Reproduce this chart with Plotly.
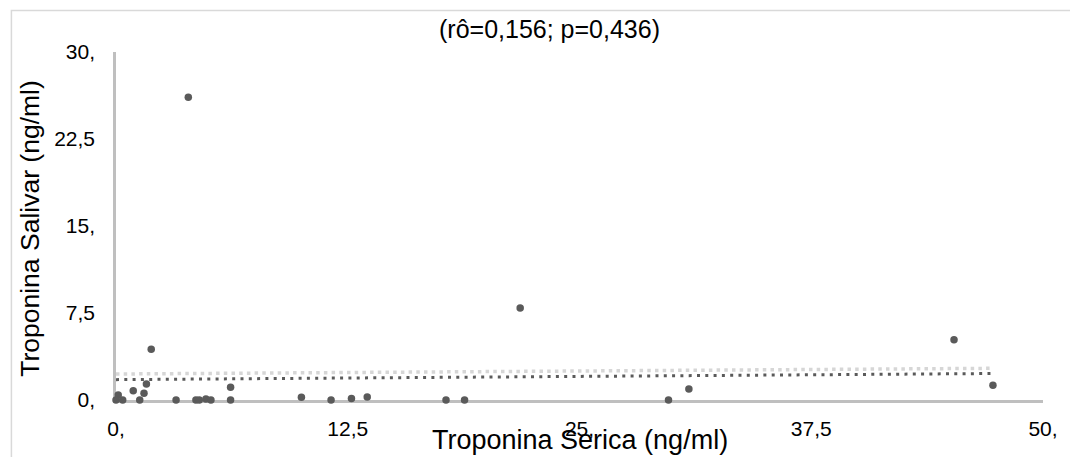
import numpy as np
import plotly.graph_objects as go

# Data
x_serica = [0.12, 0.0, 0.36, 0.93, 1.28, 1.51, 1.64, 1.90, 3.24, 4.31, 4.49, 4.85, 5.12,
            6.18, 6.18, 10.0, 11.6, 12.7, 13.55, 17.8, 18.8, 3.90, 21.8, 29.8, 30.9,
            45.2, 47.3]
y_salivar = [0.43, 0.0, 0.0, 0.80, 0.0, 0.58, 1.38, 4.37, 0.0, 0.0, 0.0, 0.08, 0.0,
             1.09, 0.0, 0.23, 0.0, 0.14, 0.26, 0.0, 0.0, 26.1, 7.93, 0.0, 0.95,
             5.20, 1.27]

# second (light) trend line
trend2_x = [0.0, 47.2]
trend2_y = [2.24, 2.73]

x_ticks = [0, 12.5, 25, 37.5, 50]
x_tick_labels = ["0,", "12,5", "25,", "37,5", "50,"]
y_ticks = [0, 7.5, 15, 22.5, 30]
y_tick_labels = ["0,", "7,5", "15,", "22,5", "30,"]

title_text = "(rô=0,156; p=0,436)"
x_title = "Troponina Serica (ng/ml)"
y_title = "Troponina Salivar (ng/ml)"

# linear trendline (least squares) from the data
slope, intercept = np.polyfit(x_serica, y_salivar, 1)
tx = np.array([min(x_serica), max(x_serica)])
ty = slope * tx + intercept

FONT = "Arial, Liberation Sans, sans-serif"
W, H = 1070, 457
ML, MR, MT, MB = 116, 19, 52, 57
PW = W - ML - MR
PH = H - MT - MB

def px_to_paper_x(px):
    return (px - ML) / PW

def px_to_paper_y(py):
    return (H - MB - py) / PH

fig = go.Figure()

fig.add_trace(go.Scatter(
    x=trend2_x, y=trend2_y, mode="lines",
    line=dict(color="#d6d6d6", width=3.5, dash="3.5px,4.2px"),
    hoverinfo="skip", showlegend=False, cliponaxis=False,
))
fig.add_trace(go.Scatter(
    x=tx, y=ty, mode="lines",
    line=dict(color="#5a5a5a", width=3, dash="3px,5.3px"),
    hoverinfo="skip", showlegend=False, cliponaxis=False,
))
fig.add_trace(go.Scatter(
    x=x_serica, y=y_salivar, mode="markers",
    marker=dict(color="#5a5a5a", size=7.5, line=dict(width=0)),
    showlegend=False, cliponaxis=False,
))

fig.update_layout(
    width=W, height=H,
    margin=dict(l=ML, r=MR, t=MT, b=MB, pad=0),
    paper_bgcolor="white", plot_bgcolor="white",
    font=dict(family=FONT, color="#000000", size=22),
    xaxis=dict(
        range=[0, 50], tickvals=x_ticks, ticktext=x_tick_labels,
        showgrid=False, zeroline=False, showline=True, linecolor="#bfbfbf",
        linewidth=2.5, ticks="", ticklabelstandoff=8, layer="below traces",
        ticklabeloverflow="allow",
        tickfont=dict(size=21, color="#000000"),
    ),
    yaxis=dict(
        range=[0, 30], tickvals=y_ticks, ticktext=y_tick_labels,
        showgrid=False, zeroline=False, showline=True, linecolor="#bfbfbf",
        linewidth=2.5, ticks="", ticklabelstandoff=14, layer="below traces",
        ticklabeloverflow="allow",
        tickfont=dict(size=21, color="#000000"),
    ),
    shapes=[dict(
        type="rect", xref="paper", yref="paper",
        x0=px_to_paper_x(10.5), x1=px_to_paper_x(1200),
        y0=px_to_paper_y(600), y1=px_to_paper_y(10.5),
        line=dict(color="#d9d9d9", width=1.5), fillcolor="rgba(0,0,0,0)",
        layer="below",
    )],
    annotations=[
        dict(text=title_text, xref="paper", yref="paper",
             x=px_to_paper_x(553), y=px_to_paper_y(29),
             xanchor="center", yanchor="middle", showarrow=False,
             font=dict(size=25, family=FONT, color="#000000")),
        dict(text=x_title, xref="paper", yref="paper",
             x=px_to_paper_x(584), y=px_to_paper_y(440),
             xanchor="center", yanchor="middle", showarrow=False,
             font=dict(size=27, family=FONT, color="#000000")),
        dict(text=y_title, xref="paper", yref="paper",
             x=px_to_paper_x(29), y=px_to_paper_y(228),
             xanchor="center", yanchor="middle", showarrow=False, textangle=-90,
             font=dict(size=26.5, family=FONT, color="#000000")),
    ],
)

fig.write_html(
    "out.html",
    config={"displayModeBar": False},
    post_script="document.body.style.margin='0px';document.body.style.overflow='hidden';",
)
